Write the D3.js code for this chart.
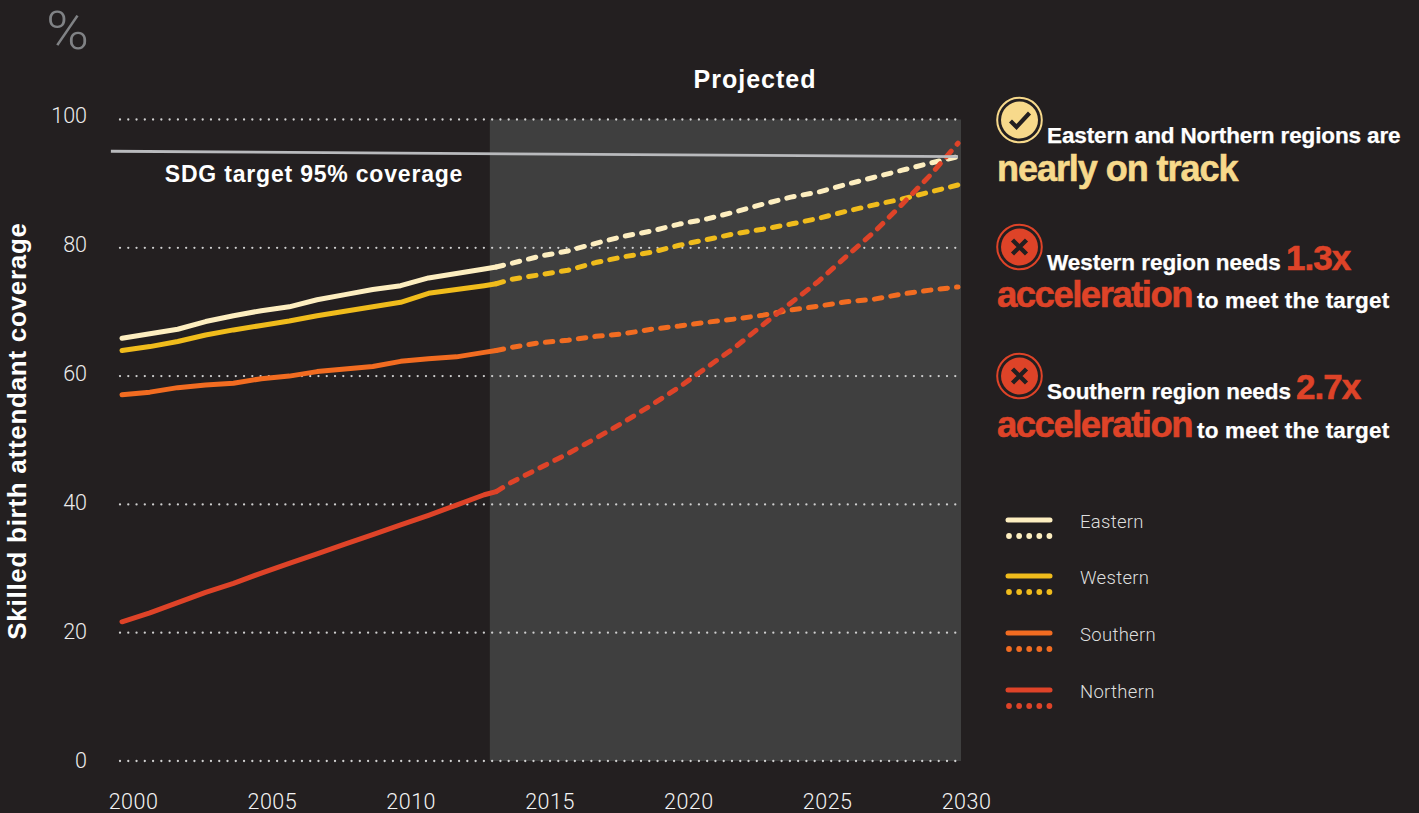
<!DOCTYPE html>
<html><head><meta charset="utf-8">
<script src="https://cdn.jsdelivr.net/npm/d3@7"></script>
<style>html,body{margin:0;padding:0;background:#231f20;overflow:hidden}svg{display:block}text{font-family:Roboto,"Liberation Sans",sans-serif}</style>
</head><body><div id="c"></div>
<script>
const regions = ["Eastern","Western","Southern","Northern"];
const colors = ["#fdeec0","#f0bc1c","#f26c21","#de4328"];
const yearsSolid = [2000,2001,2002,2003,2004,2005,2006,2007,2008,2009,2010,2011,2012,2013,2013.43];
const yearsProjected = [2013.43,2014,2015,2016,2017,2018,2019,2020,2021,2022,2023,2024,2025,2026,2027,2028,2029,2030];
const easternSolid = [65.9,66.6,67.3,68.5,69.4,70.2,70.8,71.9,72.7,73.5,74.1,75.3,76.0,76.7,77.0];
const westernSolid = [64.0,64.6,65.4,66.4,67.2,67.9,68.6,69.4,70.1,70.8,71.5,72.9,73.5,74.1,74.4];
const southernSolid = [57.1,57.5,58.2,58.6,58.9,59.6,60.0,60.7,61.1,61.5,62.3,62.7,63.0,63.7,64.0];
const northernSolid = [21.7,23.1,24.7,26.3,27.7,29.3,30.8,32.3,33.8,35.3,36.8,38.3,39.9,41.5,42.0];
const easternProjected = [77.0,77.6,78.7,79.5,80.7,81.8,82.6,83.7,84.5,85.6,86.8,87.9,88.7,89.9,91.0,92.1,93.2,94.2];
const westernProjected = [74.4,75.1,75.8,76.5,77.7,78.6,79.3,80.4,81.3,82.2,82.9,83.7,84.6,85.7,86.7,87.6,88.7,89.8];
const southernProjected = [64.0,64.5,65.2,65.6,66.2,66.6,67.3,67.8,68.4,68.9,69.5,70.3,70.9,71.6,72.0,72.8,73.4,73.9];
const northernProjected = [42.0,43.5,45.7,47.9,50.3,52.8,55.5,58.3,61.4,64.5,68.0,71.4,74.8,78.7,82.5,86.8,91.3,96.3];
const targetYears = [1999.6,2030];
const targetValues = [95.05,94.2];
const yTicks = [0,20,40,60,80,100];
const xTicks = [2000,2005,2010,2015,2020,2025,2030];
const projectedStart = 2013.2;

const W=1419,H=813;
const BOLD='"Liberation Sans",Arial,sans-serif';
const svg=d3.select("#c").append("svg").attr("width",W).attr("height",H);
svg.append("rect").attr("width",W).attr("height",H).attr("fill","#231f20");
const x=d3.scaleLinear().domain([2000,2030]).range([122,958]);
const y=d3.scaleLinear().domain([0,100]).range([761,119.5]);
const xLabel=d3.scaleLinear().domain([2000,2030]).range([133,966]);
const yLabel=d3.scaleLinear().domain([0,100]).range([760,115]);

svg.append("rect").attr("x",x(projectedStart)).attr("y",y(100)).attr("width",961-x(projectedStart)).attr("height",y(0)-y(100)).attr("fill","#3f3f3f");

// gridlines
svg.append("g").selectAll("line").data(yTicks).join("line")
 .attr("x1",120).attr("x2",961).attr("y1",d=>y(d)).attr("y2",d=>y(d))
 .attr("stroke","#cfcfcf").attr("stroke-width",2.3).attr("stroke-linecap","round").attr("stroke-dasharray","0 8.27");

// axes
const gy=svg.append("g").attr("transform","translate(95,0)").call(d3.axisLeft(yLabel).tickValues(yTicks).tickSize(0).tickPadding(8));
gy.select(".domain").remove();
gy.selectAll("text").attr("fill","#ececec").style("font-size","21.5px").style("font-weight",300).attr("dy","0.36em");
const gx=svg.append("g").attr("transform","translate(0,797)").call(d3.axisBottom(xLabel).tickValues(xTicks).tickFormat(d3.format("d")).tickSize(0).tickPadding(0));
gx.select(".domain").remove();
gx.selectAll("text").attr("fill","#f4f4f4").style("font-size","21.5px").style("font-weight",300).attr("y",0).attr("dy","0.55em").style("letter-spacing","0.5px");

// series
const line=d3.line().x(d=>x(d[0])).y(d=>y(d[1])).curve(d3.curveLinear);
const solid=[easternSolid,westernSolid,southernSolid,northernSolid];
const proj=[easternProjected,westernProjected,southernProjected,northernProjected];
const order=[1,0,2,3];
order.forEach(i=>{
 svg.append("path").attr("d",line(yearsSolid.map((t,k)=>[t,solid[i][k]]))).attr("fill","none").attr("stroke",colors[i]).attr("stroke-width",5).attr("stroke-linecap","round").attr("stroke-linejoin","round");
});
order.forEach(i=>{
 svg.append("path").attr("d",line(yearsProjected.map((t,k)=>[t,proj[i][k]]))).attr("fill","none").attr("stroke",colors[i]).attr("stroke-width",5).attr("stroke-linecap","round").attr("stroke-linejoin","round").attr("stroke-dasharray","7.5 9.1");
});
// target
svg.append("path").attr("d",line(targetYears.map((t,k)=>[t,targetValues[k]]))).attr("fill","none").attr("stroke","#b9babd").attr("stroke-width",2.8);

function T(s,px,py,size,weight,fill,ls,anchor,heavy){
 const t=svg.append("text").text(s).attr("x",px).attr("y",py).attr("fill",fill).style("font-size",size+"px").style("font-weight",weight).style("letter-spacing",(ls||0)+"px").attr("text-anchor",anchor||"start");
 if(weight>=700) t.style("font-family",BOLD);
 if(heavy) t.attr("stroke",fill).attr("stroke-width",heavy);
 return t;
}
T("%",46,49,54,300,"#808285",0).attr("textLength",43).attr("lengthAdjust","spacingAndGlyphs");
T("Projected",755,88,25,700,"#ffffff",1,"middle");
T("SDG target 95% coverage",314,182,23,700,"#ffffff",0.8,"middle");
T("Skilled birth attendant coverage",0,0,26,700,"#ffffff",0.72,"middle").attr("transform","translate(26,431) rotate(-90)");

const cream="#f7d98b", red="#de4328", white="#ffffff", bg="#231f20";
function icon(cx,cy,col,ok){
 svg.append("circle").attr("cx",cx).attr("cy",cy).attr("r",22.3).attr("fill","none").attr("stroke",col).attr("stroke-width",2);
 svg.append("circle").attr("cx",cx).attr("cy",cy).attr("r",18.5).attr("fill",col);
 if(ok) svg.append("path").attr("d",`M${cx-9},${cy+1} L${cx-3},${cy+7} L${cx+10},${cy-7}`).attr("fill","none").attr("stroke",bg).attr("stroke-width",4.2);
 else svg.append("path").attr("d",`M${cx-7},${cy-7} L${cx+7},${cy+7} M${cx+7},${cy-7} L${cx-7},${cy+7}`).attr("fill","none").attr("stroke",bg).attr("stroke-width",4.4);
}
icon(1019.5,120,cream,true);
icon(1019.5,247,red,false);
icon(1019.5,376,red,false);
T("Eastern and Northern regions are",1047,143,22.5,700,white,-0.13,"start",0.25);
T("nearly on track",997,181,36,700,cream,-1.05,"start",0.6);
T("Western region needs",1047,270,22.5,700,white,-0.05,"start",0.25);
T("1.3x",1286,270,35,700,red,-1,"start",0.6);
T("acceleration",997,307,36.5,700,red,-1.5,"start",0.6);
T("to meet the target",1197,308,22.5,700,white,0.2,"start",0.25);
T("Southern region needs",1047,399,22.5,700,white,-0.05,"start",0.25);
T("2.7x",1296,399,35,700,red,-1,"start",0.6);
T("acceleration",997,437,36.5,700,red,-1.5,"start",0.6);
T("to meet the target",1197,438,22.5,700,white,0.2,"start",0.25);

// legend
const legendY=[520,576,633,690];
regions.forEach((r,i)=>{
 const ly=legendY[i];
 svg.append("line").attr("x1",1008).attr("x2",1050).attr("y1",ly).attr("y2",ly).attr("stroke",colors[i]).attr("stroke-width",5).attr("stroke-linecap","round");
 svg.append("g").selectAll("circle").data(d3.range(5)).join("circle").attr("cx",k=>1009+k*10.1).attr("cy",ly+16).attr("r",2.9).attr("fill",colors[i]);
 T(r,1080,ly+8,18.5,300,"#dedede",0.3);
});
</script></body></html>
